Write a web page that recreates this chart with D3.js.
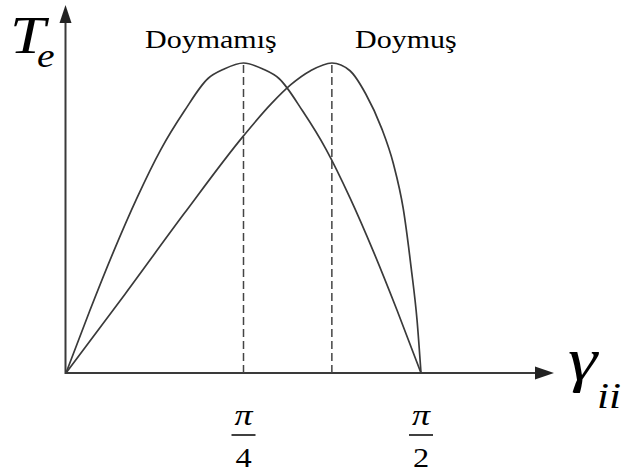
<!DOCTYPE html>
<html>
<head>
<meta charset="utf-8">
<script src="https://cdn.jsdelivr.net/npm/d3@7"></script>
<style>
  html, body { margin: 0; padding: 0; background: #fff; }
  svg { display: block; }
</style>
</head>
<body>
<svg id="chart" width="625" height="473"></svg>
<script>
// Load angle γ (degrees) and torque Te (per unit of its maximum)
const unsatAngle = [0, 6, 12, 18, 24, 30, 36, 40, 45, 50, 54, 60, 66, 72, 78, 84, 90];
const unsatTorque = [0, 0.2, 0.39, 0.565, 0.72, 0.845, 0.95, 0.98, 1.0, 0.98, 0.95, 0.845, 0.72, 0.565, 0.39, 0.2, 0];

const satAngle = [0, 15, 30, 45, 52, 57, 62, 67.4, 72, 76, 80, 83, 85.5, 87.5, 89, 90];
const satTorque = [0, 0.255, 0.515, 0.765, 0.868, 0.93, 0.975, 1.0, 0.975, 0.9, 0.79, 0.675, 0.53, 0.34, 0.17, 0];

const seriesNames = ["Doymamış", "Doymuş"];
const peakAngles = [45, 67.4];
const tickAngles = [45, 90];
const tickDenominators = ["4", "2"];

const serif = "Liberation Serif, Tinos, Times New Roman, Times, DejaVu Serif, FreeSerif, Noto Serif, serif";

const svg = d3.select("#chart");
const x = d3.scaleLinear().domain([0, 90]).range([66, 421]);
const y = d3.scaleLinear().domain([0, 1]).range([373, 63]);

const axisColor = "#3a3a3a";
const curveColor = "#3a3a3a";
const stretch = 1.2;

// axes with arrowheads
const x0 = x(0), y0 = y(0);
svg.append("line").attr("x1", x0 - 1).attr("y1", y0).attr("x2", 540).attr("y2", y0)
  .attr("stroke", axisColor).attr("stroke-width", 2);
svg.append("path").attr("d", `M554,${y0} L535,${y0 - 6.5} L535,${y0 + 6.5} Z`).attr("fill", "#222");
svg.append("line").attr("x1", x0 - 0.5).attr("y1", y0 + 1).attr("x2", x0 - 0.5).attr("y2", 20)
  .attr("stroke", axisColor).attr("stroke-width", 2);
svg.append("path").attr("d", `M${x0 - 0.5},5 L${x0 - 6.5},23 L${x0 + 5.5},23 Z`).attr("fill", "#222");

// dashed guides from each peak down to the axis
peakAngles.forEach(a => {
  svg.append("line")
    .attr("x1", x(a)).attr("x2", x(a))
    .attr("y1", y(0)).attr("y2", y(1))
    .attr("stroke", "#444").attr("stroke-width", 1.5)
    .attr("stroke-dasharray", "8,4");
});

// torque–angle curves
const line = d3.line().x(d => x(d[0])).y(d => y(d[1])).curve(d3.curveMonotoneX);
const unsat = unsatAngle.map((a, i) => [a, unsatTorque[i]]);
const sat = satAngle.map((a, i) => [a, satTorque[i]]);
[unsat, sat].forEach(data => {
  svg.append("path").datum(data).attr("d", line)
    .attr("fill", "none").attr("stroke", curveColor).attr("stroke-width", 1.7);
});

// horizontally stretched serif text
function label(px, py, str, size, italic, anchor) {
  const g = svg.append("g").attr("transform", `translate(${px},${py}) scale(${stretch},1)`);
  return g.append("text").text(str)
    .attr("font-family", serif)
    .attr("fill", "#000")
    .attr("font-size", size)
    .attr("font-style", italic ? "italic" : "normal")
    .attr("text-anchor", anchor || "start");
}

// series names
label(145, 48, seriesNames[0], 25, false);
label(355, 48, seriesNames[1], 25, false);

// axis titles
label(10, 53, "T", 53, true);
label(37, 67, "e", 33, true);
label(568, 380, "γ", 62, true);
label(597, 408, "ii", 36, true);

// π/4 and π/2 tick labels as stacked fractions
tickAngles.forEach((a, i) => {
  const cx = x(a);
  label(cx, 425, "π", 30, true, "middle");
  svg.append("line").attr("x1", cx - 12).attr("x2", cx + 12)
    .attr("y1", 435).attr("y2", 435)
    .attr("stroke", "#000").attr("stroke-width", 1.5);
  label(cx, 467, tickDenominators[i], 27, false, "middle");
});
</script>
</body>
</html>
